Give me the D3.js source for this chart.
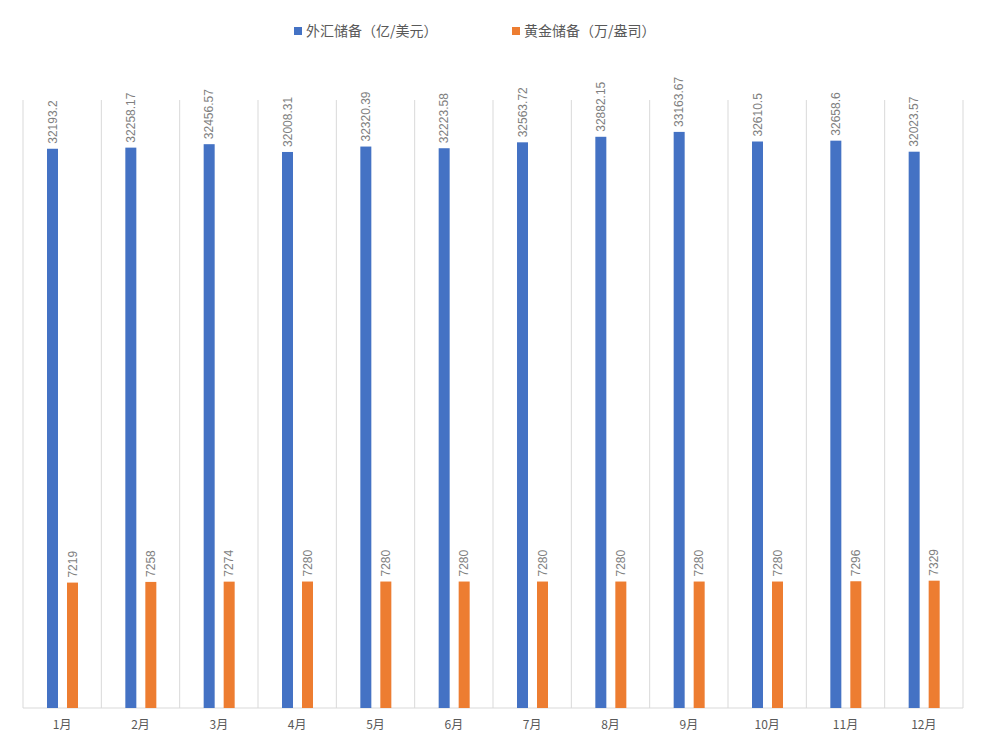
<!DOCTYPE html>
<html><head><meta charset="utf-8">
<script src="https://cdn.jsdelivr.net/npm/d3@7"></script>
<style>body{margin:0;background:#fff;font-family:"Noto Sans CJK SC","Noto Sans",sans-serif;}</style>
</head><body><div id="container"></div>
<script>
const months = ["1月","2月","3月","4月","5月","6月","7月","8月","9月","10月","11月","12月"];
const forex = [32193.2,32258.17,32456.57,32008.31,32320.39,32223.58,32563.72,32882.15,33163.67,32610.5,32658.6,32023.57];
const gold = [7219,7258,7274,7280,7280,7280,7280,7280,7280,7280,7296,7329];
const seriesNames = ["外汇储备（亿/美元）","黄金储备（万/盎司）"];
const colors = ["#4472c4","#ed7d31"];

const width = 986, height = 753;
const svg = d3.select("#container").append("svg").attr("width", width).attr("height", height);
const plotLeft = 23, plotRight = 963, plotTop = 100, plotBottom = 708;

const x = d3.scaleBand().domain(months).range([plotLeft, plotRight]);
const y = d3.scaleLinear().domain([0, 35000]).range([plotBottom, plotTop]);

// vertical grid lines
svg.append("g").selectAll("line").data(d3.range(months.length + 1)).enter().append("line")
   .attr("x1", i => plotLeft + i * x.bandwidth()).attr("x2", i => plotLeft + i * x.bandwidth())
   .attr("y1", plotTop).attr("y2", plotBottom).attr("stroke", "#d9d9d9");
svg.append("line").attr("x1", plotLeft).attr("x2", plotRight).attr("y1", plotBottom).attr("y2", plotBottom).attr("stroke", "#d9d9d9");

const offsets = [24, 44], bw = 11;
[forex, gold].forEach((vals, s) => {
  const g = svg.append("g");
  g.selectAll("rect").data(vals).enter().append("rect")
   .attr("x", (d, i) => x(months[i]) + offsets[s]).attr("width", bw)
   .attr("y", d => y(d)).attr("height", d => plotBottom - y(d)).attr("fill", colors[s]);
  g.selectAll("text").data(vals).enter().append("text")
   .attr("transform", (d, i) => "translate(" + (x(months[i]) + offsets[s] + bw / 2 + 4) + "," + (y(d) - 5) + ") rotate(-90)")
   .attr("font-size", 12).attr("fill", "#7f7f7f").attr("font-family", "Liberation Sans, Arial, sans-serif")
   .text(d => d);
});

svg.append("g").selectAll("text").data(months).enter().append("text")
   .attr("x", d => x(d) + x.bandwidth() / 2).attr("y", 729).attr("text-anchor", "middle")
   .attr("font-size", 12).attr("fill", "#595959").text(d => d);

// legend
const leg = svg.append("g");
const legX = [294, 512];
seriesNames.forEach((n, i) => {
  leg.append("rect").attr("x", legX[i]).attr("y", 27).attr("width", 8).attr("height", 8).attr("fill", colors[i]);
  leg.append("text").attr("x", legX[i] + 12).attr("y", 36).attr("font-size", 14).attr("fill", "#595959").text(n);
});
</script></body></html>
